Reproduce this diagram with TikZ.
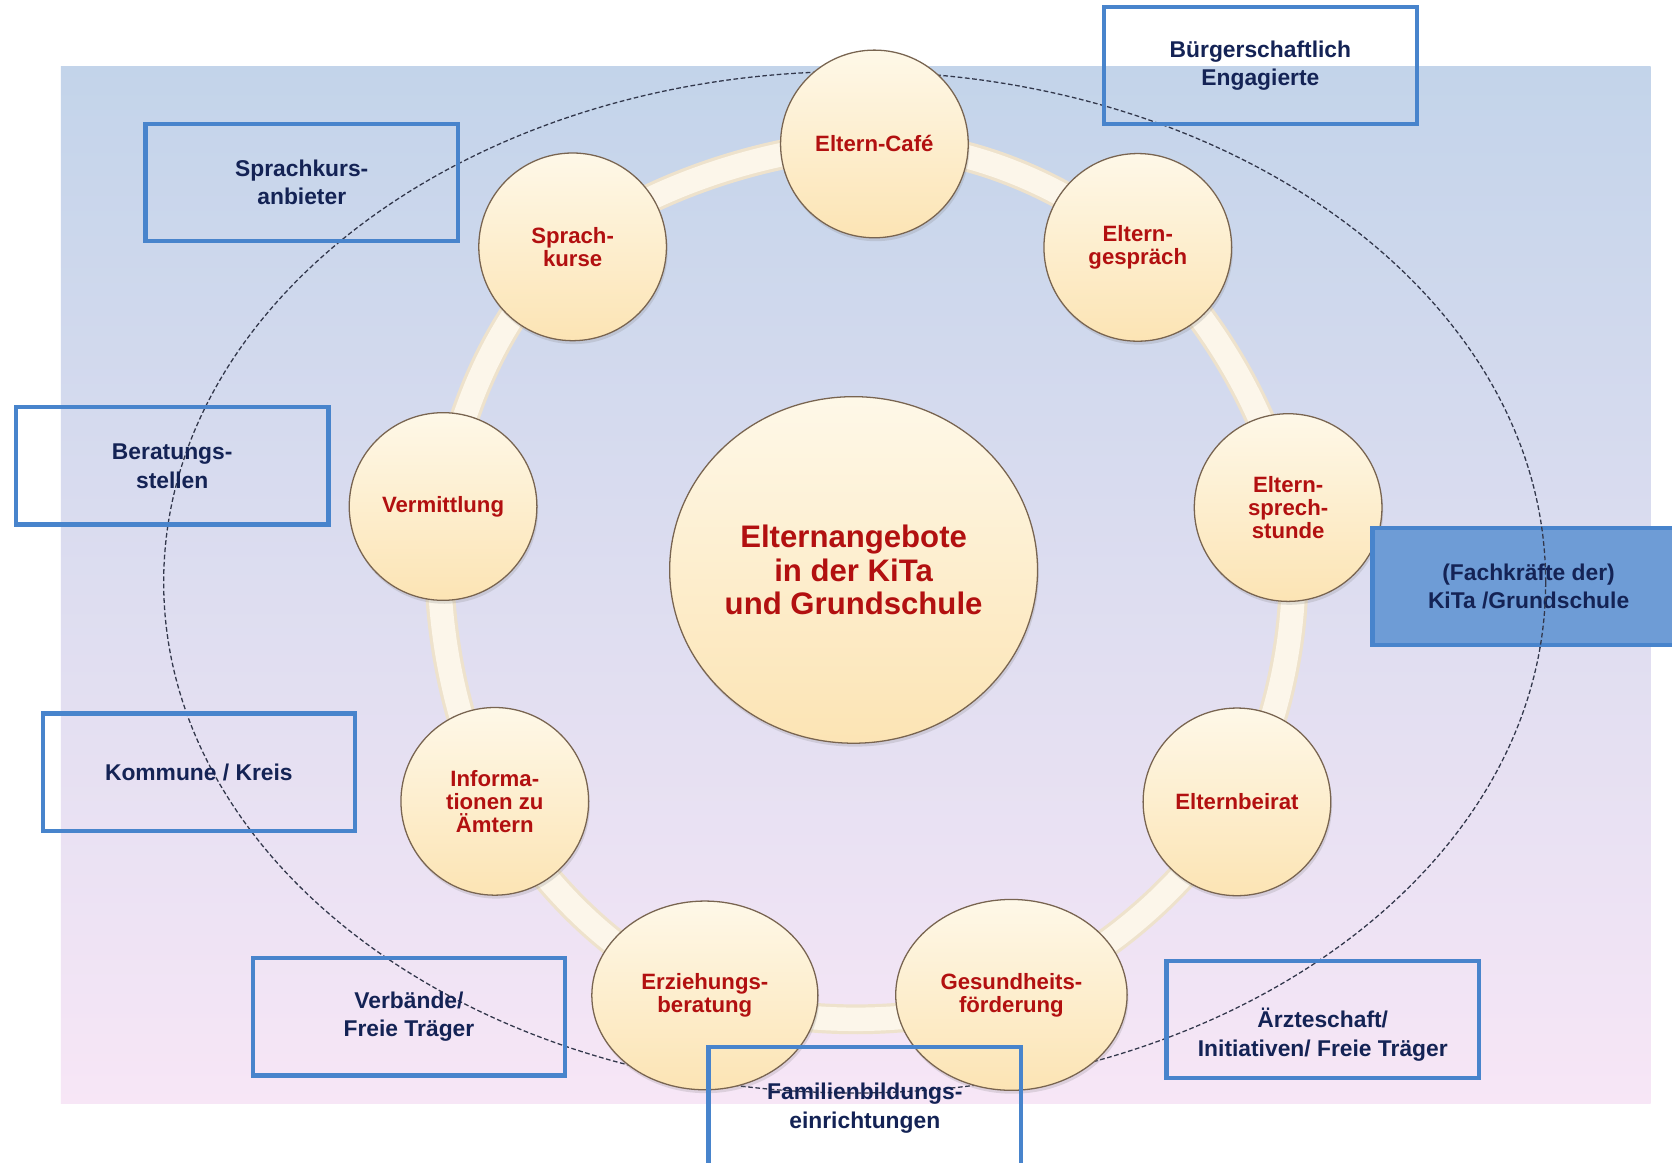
\documentclass[tikz,border=0pt]{standalone}
\usepackage{fontspec}
\setmainfont{Liberation Sans}
\usetikzlibrary{shapes.geometric,shadows}
\definecolor{bgtop}{RGB}{195,212,234}
\definecolor{bgmid}{RGB}{214,221,240}
\definecolor{bgbot}{RGB}{247,230,246}
\definecolor{cremetop}{RGB}{254,248,232}
\definecolor{cremebot}{RGB}{252,228,180}
\definecolor{bubline}{RGB}{120,100,80}
\definecolor{txtred}{RGB}{178,16,16}
\definecolor{navy}{RGB}{20,35,85}
\definecolor{boxblue}{RGB}{72,132,204}
\definecolor{fillblue}{RGB}{110,156,214}
\definecolor{ringedge}{RGB}{238,226,204}
\definecolor{ringc}{RGB}{252,246,234}
\definecolor{dashc}{RGB}{50,55,75}
\begin{document}
\begin{tikzpicture}[x=0.5pt,y=-0.5pt,
  bub/.style={ellipse, draw=bubline, line width=0.6pt, top color=cremetop, bottom color=cremebot,
    inner sep=0pt, align=center, text=txtred,
    font=\fontsize{10.4}{10.8}\selectfont\bfseries,
    minimum width=88pt, minimum height=88pt,
    drop shadow={opacity=0.22, shadow xshift=0.6pt, shadow yshift=-1.6pt}},
  obox/.style={draw=boxblue, line width=2pt, minimum width=146.5pt, minimum height=55pt,
    inner sep=0pt, align=center, text=navy, font=\fontsize{10.7}{13.5}\selectfont\bfseries},
  otext/.style={inner sep=0pt, align=center, text=navy, font=\fontsize{10.7}{13.5}\selectfont\bfseries},
  dashline/.style={draw=dashc, line width=0.6pt, dash pattern=on 2.2pt off 1.2pt},
  ringband/.style={line width=14pt, draw=ringedge, line join=round},
  ringinner/.style={line width=11pt, draw=ringc, line join=round}]

\useasboundingbox (0,0) rectangle (1568,1090);
\fill[white] (0,0) rectangle (1568,1090);
\shade[top color=bgtop, middle color=bgmid, bottom color=bgbot] (57,62) rectangle (1548,1035);

% dashed ellipse
\draw[dashline] (801.5,546) ellipse [x radius=648, y radius=479];

% ring positions
\coordinate (pcafe) at (820,135);
\coordinate (pgespr) at (1067,232);
\coordinate (psprech) at (1208,476);
\coordinate (pbeirat) at (1160,752);
\coordinate (pgesund) at (948.5,933);
\coordinate (perz) at (661,933.5);
\coordinate (pinfo) at (464,751.5);
\coordinate (pverm) at (415.5,475);
\coordinate (psprach) at (537,231.5);

\draw[ringband] plot[smooth cycle, tension=0.6] coordinates {(pcafe) (pgespr) (psprech) (pbeirat) (pgesund) (perz) (pinfo) (pverm) (psprach)};
\draw[ringinner] plot[smooth cycle, tension=0.6] coordinates {(pcafe) (pgespr) (psprech) (pbeirat) (pgesund) (perz) (pinfo) (pverm) (psprach)};

% circles
\node[bub] (cafe) at (pcafe) {Eltern-Café};
\node[bub] (gespr) at (pgespr) {Eltern-\\gespräch};
\node[bub] (sprech) at (psprech) {Eltern-\\sprech-\\stunde};
\node[bub] (beirat) at (pbeirat) {Elternbeirat};
\node[bub, minimum width=108.5pt, minimum height=89.5pt] (gesund) at (pgesund) {Gesundheits-\\förderung};
\node[bub, minimum width=106pt, minimum height=88.5pt] (erz) at (perz) {Erziehungs-\\beratung};
\node[bub] (info) at (pinfo) {Informa-\\tionen zu\\Ämtern};
\node[bub] (verm) at (pverm) {Vermittlung};
\node[bub] (sprach) at (psprach) {Sprach-\\kurse};

\node[bub, minimum width=172.5pt, minimum height=162.5pt,
  font=\fontsize{14.6}{15.8}\selectfont\bfseries] (center) at (800.5,534.5)
  {Elternangebote\\in der KiTa\\und Grundschule};

% outer boxes
\node[obox] (sanb) at (283,171) {Sprachkurs-\\anbieter};
\node[obox] (buerg) at (1182,61.5) {Bürgerschaftlich\\Engagierte};
\node[obox] (berat) at (161.5,437) {Beratungs-\\stellen};
\node[obox] (komm) at (186.5,724) {Kommune / Kreis};
\node[obox] (verb) at (383.5,953.5) {Verbände/\\Freie Träger};
\node[obox, minimum height=57pt] (fam) at (811,1039) {Familienbildungs-\\einrichtungen};
\node[obox] (aerz) at (1240.5,956) {};
\node[otext] (aerzt) at (1240.5,970) {Ärzteschaft/\\Initiativen/ Freie Träger};
\node[obox, fill=fillblue] (fach) at (1433.5,550) {(Fachkräfte der)\\KiTa /Grundschule};

\begin{scope}
  \clip (fach.south west) rectangle (fach.north east);
  \draw[dashline] (801.5,546) ellipse [x radius=648, y radius=479];
\end{scope}
\end{tikzpicture}
\end{document}
